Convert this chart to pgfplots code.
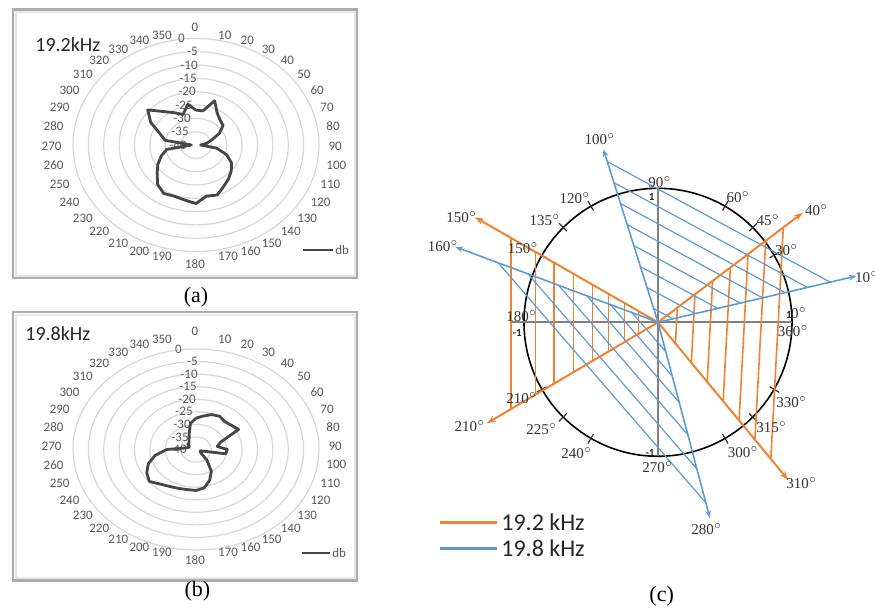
\documentclass[border=0pt]{standalone}
\usepackage{pgfplots}
\pgfplotsset{compat=1.18}
\usepackage{pgfplotstable}
\usepackage{fontspec}
\setmainfont{Liberation Serif}
\newfontfamily\calibri{Carlito}
\usetikzlibrary{arrows.meta}

\definecolor{ring}{RGB}{215,215,215}
\definecolor{labg}{RGB}{89,89,89}
\definecolor{curve}{RGB}{70,70,70}
\definecolor{org}{RGB}{240,130,50}
\definecolor{blu}{RGB}{91,155,213}
\definecolor{axg}{RGB}{128,128,128}

% panel (a): 19.2 kHz, angle (deg, clockwise from top) and level (dB)
\pgfplotstableread{
a db
0 -26.9
10 -27
20 -22.3
30 -26.2
40 -27.8
50 -28.5
60 -31.2
70 -34.6
80 -36.5
90 -38.5
100 -33.2
110 -29.4
120 -26.7
130 -25
140 -23.5
150 -22
160 -20
170 -20.5
180 -18
190 -19
200 -19.5
210 -19
220 -20.6
230 -23.5
240 -25.7
250 -28
260 -30.3
270 -38.5
280 -29.8
290 -27.5
300 -23
310 -19.5
320 -23.6
330 -26
340 -27.8
350 -24.5
360 -26.9
}\tabA

% panel (b): 19.8 kHz
\pgfplotstableread{
a db
0 -27.5
10 -26.5
20 -25.2
30 -24.7
40 -25.5
50 -25
60 -24
70 -31.5
80 -33
90 -29.8
100 -30.2
110 -38.5
120 -38.5
130 -38
140 -34.5
150 -30
160 -27
170 -24.5
180 -23.7
190 -23.8
200 -23.5
210 -23
220 -22
230 -20.2
240 -21.5
250 -23.5
260 -26.5
270 -30.5
280 -36.5
290 -37.5
300 -37.5
310 -36.5
320 -36.5
330 -35.5
340 -33.5
350 -29.5
360 -27.5
}\tabB

\newcommand\dg[1]{#1$^{\circ}$}
\newcommand\oseg[4]{\addplot[org, line width=0.8pt] coordinates {(#1,#2) (#3,#4)};}
\newcommand\bseg[4]{\addplot[blu, line width=0.6pt] coordinates {(#1,#2) (#3,#4)};}

\begin{document}
\begin{tikzpicture}[x=0.5pt,y=-0.5pt, every node/.style={inner sep=0pt},
  rlab/.style={font=\calibri\fontsize{6.5}{7}\selectfont, text=labg},
  clab/.style={font=\fontsize{7.5}{8}\selectfont, text=black!80},
  nlab/.style={font=\calibri\bfseries\fontsize{5.5}{6}\selectfont, text=black!85}]
\useasboundingbox (0,0) rectangle (875,611);

% ================= panel (a) =================
\draw[gray!65, line width=1.2pt] (13,9.5) rectangle (357,278);
\draw[gray!20, line width=1pt] (15.5,12) rectangle (354.5,275.5);
\foreach \k in {1,...,8}{
  \pgfmathsetmacro\rx{\k*7.6875}
  \pgfmathsetmacro\ry{\k*6.65625}
  \draw[ring, line width=0.6pt] (196,145) ellipse [x radius=\rx pt, y radius=\ry pt];
}
\foreach \a in {0,10,...,350}{
  \pgfmathsetmacro\w{ifthenelse(\a<10,6.6,ifthenelse(\a<100,13.2,19.8))}
  \pgfmathsetmacro\sx{max(-1,min(1,6*sin(\a)))}
  \pgfmathsetmacro\ex{ifthenelse(\a==0,-7,ifthenelse(\a==180,6,0))}
  \pgfmathsetmacro\lx{195+133.5*sin(\a)+\w/2*\sx}
  \pgfmathsetmacro\ly{146-112*cos(\a)+\ex}
  \node[rlab] at (\lx,\ly) {\a};
}
\foreach \v/\xr in {0/185,-5/198,-10/198,-15/197,-20/196,-25/193,-30/191,-35/189,-40/187}{
  \pgfmathsetmacro\yy{145-(40+\v)/40*106.5}
  \node[rlab, anchor=east] at (\xr,\yy) {\v};
}
\begin{axis}[at={(98pt,-72.5pt)}, anchor=center, x=1.5375pt, y=1.33125pt,
  hide axis, clip=false, xmin=-40, xmax=40, ymin=-40, ymax=40]
\addplot[curve, line width=1.4pt, line join=round, mark=none]
  table[x expr={(\thisrow{db}+40)*sin(\thisrow{a})}, y expr={(\thisrow{db}+40)*cos(\thisrow{a})}] {\tabA};
\end{axis}
\node[anchor=west, font=\calibri\fontsize{10}{12}\selectfont, text=black!85] at (35,45) {19.2kHz};
\draw[curve, line width=1.4pt] (303,250) -- (333,250);
\node[rlab, anchor=west] at (335,250) {db};
\node[font=\fontsize{11}{13}\selectfont] at (196,297) {(a)};

% ================= panel (b) =================
\draw[gray!65, line width=1.2pt] (13,312) rectangle (357,580.5);
\draw[gray!20, line width=1pt] (15.5,314.5) rectangle (354.5,578);
\foreach \k in {1,...,8}{
  \pgfmathsetmacro\rx{\k*7.6875}
  \pgfmathsetmacro\ry{\k*6.28125}
  \draw[ring, line width=0.6pt] (196,449.5) ellipse [x radius=\rx pt, y radius=\ry pt];
}
\foreach \a in {0,10,...,350}{
  \pgfmathsetmacro\w{ifthenelse(\a<10,6.6,ifthenelse(\a<100,13.2,19.8))}
  \pgfmathsetmacro\sx{max(-1,min(1,6*sin(\a)))}
  \pgfmathsetmacro\ex{ifthenelse(\a==0,-7,ifthenelse(\a==180,6,0))}
  \pgfmathsetmacro\lx{195+133.5*sin(\a)+\w/2*\sx}
  \pgfmathsetmacro\ly{446-108*cos(\a)+\ex}
  \node[rlab] at (\lx,\ly) {\a};
}
\foreach \v/\xr in {0/182,-5/198,-10/198,-15/197,-20/196,-25/193,-30/191,-35/189,-40/187}{
  \pgfmathsetmacro\yy{449.5-(40+\v)/40*100.5}
  \node[rlab, anchor=east] at (\xr,\yy) {\v};
}
\begin{axis}[at={(98pt,-224.75pt)}, anchor=center, x=1.5375pt, y=1.25625pt,
  hide axis, clip=false, xmin=-40, xmax=40, ymin=-40, ymax=40]
\addplot[curve, line width=1.4pt, line join=round, mark=none]
  table[x expr={(\thisrow{db}+40)*sin(\thisrow{a})}, y expr={(\thisrow{db}+40)*cos(\thisrow{a})}] {\tabB};
\end{axis}
\node[anchor=west, font=\calibri\fontsize{10}{12}\selectfont, text=black!85] at (25,333.3) {19.8kHz};
\draw[curve, line width=1.4pt] (302,553) -- (330,553);
\node[rlab, anchor=west] at (332,553) {db};
\node[font=\fontsize{11}{13}\selectfont] at (197.5,591.7) {(b)};

% ================= panel (c) =================
\draw[black, line width=0.8pt] (658,322.3) circle [radius=67pt];
\foreach \t in {30,45,60,120,135,150,210,225,240,300,315,330}{
  \draw[black!80, line width=0.6pt] ({658+129*cos(\t)},{322.3-129*sin(\t)}) -- ({658+140*cos(\t)},{322.3-140*sin(\t)});
}
\begin{axis}[at={(329pt,-161.15pt)}, anchor=center, x=67pt, y=67pt,
  hide axis, clip=false, xmin=-1.6, xmax=1.6, ymin=-1.6, ymax=1.6]
% axes
\addplot[axg, line width=0.9pt] coordinates {(-1.097,0) (1.0,0)};
\addplot[axg, line width=0.9pt] coordinates {(0,1.0) (0,-1.0)};
% orange hatching, left (150 deg to 210 deg)
\oseg{-1.095}{0.628}{-1.095}{-0.646}
\oseg{-0.915}{0.525}{-0.915}{-0.540}
\oseg{-0.775}{0.445}{-0.775}{-0.457}
\oseg{-0.630}{0.362}{-0.630}{-0.372}
\oseg{-0.490}{0.281}{-0.490}{-0.289}
\oseg{-0.370}{0.212}{-0.370}{-0.218}
\oseg{-0.250}{0.143}{-0.250}{-0.148}
\oseg{-0.147}{0.084}{-0.147}{-0.087}
% orange hatching, right (40 deg to 310 deg)
\oseg{0.935}{0.708}{0.842}{-1.019}
\oseg{0.804}{0.609}{0.723}{-0.876}
\oseg{0.672}{0.509}{0.605}{-0.732}
\oseg{0.540}{0.409}{0.486}{-0.589}
\oseg{0.408}{0.309}{0.367}{-0.445}
\oseg{0.276}{0.209}{0.249}{-0.301}
\oseg{0.145}{0.110}{0.130}{-0.158}
% blue hatching, upper right (100 deg to 10 deg)
\bseg{-0.378}{1.199}{1.284}{0.300}
\bseg{-0.329}{1.042}{1.116}{0.260}
\bseg{-0.279}{0.886}{0.949}{0.221}
\bseg{-0.230}{0.729}{0.781}{0.182}
\bseg{-0.181}{0.573}{0.614}{0.143}
\bseg{-0.131}{0.416}{0.446}{0.104}
\bseg{-0.082}{0.260}{0.278}{0.065}
\bseg{-0.033}{0.103}{0.111}{0.026}
% blue hatching, lower left (160 deg to 280 deg)
\bseg{-1.192}{0.444}{0.357}{-1.347}
\bseg{-0.970}{0.361}{0.291}{-1.095}
\bseg{-0.742}{0.276}{0.222}{-0.839}
\bseg{-0.530}{0.197}{0.159}{-0.599}
\bseg{-0.356}{0.133}{0.107}{-0.402}
\bseg{-0.194}{0.072}{0.058}{-0.219}
% rays
\addplot[org, line width=1pt, -{Stealth[length=4.5pt,width=3.2pt]}] coordinates {(0,0) (1.080,0.818)};
\addplot[org, line width=1pt, -{Stealth[length=4.5pt,width=3.2pt]}] coordinates {(0,0) (-1.366,0.784)};
\addplot[org, line width=1pt, -{Stealth[length=4.5pt,width=3.2pt]}] coordinates {(0,0) (-1.278,-0.754)};
\addplot[org, line width=1pt, -{Stealth[length=4.5pt,width=3.2pt]}] coordinates {(0,0) (0.972,-1.177)};
\addplot[blu, line width=0.8pt, -{Stealth[length=4pt,width=2.8pt]}] coordinates {(0,0) (-0.408,1.293)};
\addplot[blu, line width=0.8pt, -{Stealth[length=4pt,width=2.8pt]}] coordinates {(0,0) (1.483,0.346)};
\addplot[blu, line width=0.8pt, -{Stealth[length=4pt,width=2.8pt]}] coordinates {(0,0) (-1.515,0.564)};
\addplot[blu, line width=0.8pt, -{Stealth[length=4pt,width=2.8pt]}] coordinates {(0,0) (0.388,-1.463)};
\end{axis}
% circle labels
\node[clab] at (575,198.3) {\dg{120}};
\node[clab] at (545,220) {\dg{135}};
\node[clab] at (523.3,248.3) {\dg{150}};
\node[clab] at (521.7,316) {\dg{180}};
\node[clab] at (521.7,398.3) {\dg{210}};
\node[clab] at (541.7,429.3) {\dg{225}};
\node[clab] at (576.7,453.3) {\dg{240}};
\node[clab] at (657.7,466.7) {\dg{270}};
\node[clab] at (743.3,451.7) {\dg{300}};
\node[clab] at (771.7,427.3) {\dg{315}};
\node[clab] at (791.7,401.7) {\dg{330}};
\node[clab] at (786.7,250) {\dg{30}};
\node[clab] at (768.3,220) {\dg{45}};
\node[clab] at (738.3,197.3) {\dg{60}};
\node[clab] at (660,181.7) {\dg{90}};
\node[clab] at (799,313) {\dg{0}};
\node[clab] at (793.3,330.7) {\dg{360}};
% ray labels
\node[clab] at (600,139) {\dg{100}};
\node[clab] at (816.7,210) {\dg{40}};
\node[clab] at (866.7,276.7) {\dg{10}};
\node[clab] at (461.7,217.3) {\dg{150}};
\node[clab] at (443.3,246) {\dg{160}};
\node[clab] at (470,426) {\dg{210}};
\node[clab] at (801.7,483.3) {\dg{310}};
\node[clab] at (706.7,529.3) {\dg{280}};
% axis values
\node[nlab] at (651.7,196.7) {1};
\node[nlab] at (789,315) {1};
\node[nlab] at (517.3,332.7) {-1};
\node[nlab] at (650,453.3) {-1};
% legend
\draw[org, line width=1.4pt] (440,522.7) -- (496.7,522.7);
\node[anchor=west, font=\calibri\fontsize{12}{14}\selectfont, text=black!85] at (501,522.7) {19.2 kHz};
\draw[blu, line width=1.4pt] (440,548.3) -- (496.7,548.3);
\node[anchor=west, font=\calibri\fontsize{12}{14}\selectfont, text=black!85] at (501,548.3) {19.8 kHz};
\node[font=\fontsize{11}{13}\selectfont] at (661.7,596.7) {(c)};
\end{tikzpicture}
\end{document}
